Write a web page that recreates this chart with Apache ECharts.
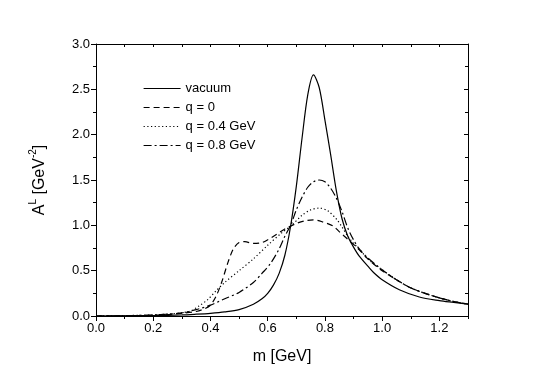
<!DOCTYPE html>
<html>
<head>
<meta charset="utf-8">
<script src="https://cdn.jsdelivr.net/npm/echarts@6/dist/echarts.min.js"></script>
<style>
  html, body { margin: 0; padding: 0; background: #fff; }
  #main { width: 545px; height: 380px; }
</style>
</head>
<body>
<div id="main"></div>
<script>
// values: [m in GeV, A^L in GeV^-2]
var vacuum = [
  [0.0, 0], [0.1, 0.002], [0.2, 0.005], [0.3, 0.012], [0.35, 0.02], [0.4, 0.03],
  [0.45, 0.045], [0.5, 0.07], [0.55, 0.13], [0.58, 0.19], [0.6, 0.25], [0.62, 0.34],
  [0.64, 0.47], [0.66, 0.67], [0.68, 0.99], [0.70, 1.43], [0.72, 1.96], [0.74, 2.44],
  [0.76, 2.66], [0.78, 2.52], [0.80, 2.16], [0.82, 1.78], [0.84, 1.38], [0.86, 1.07],
  [0.88, 0.88], [0.90, 0.76], [0.92, 0.66], [0.95, 0.55], [0.97, 0.48], [1.0, 0.40],
  [1.06, 0.29], [1.13, 0.21], [1.2, 0.17], [1.25, 0.15], [1.3, 0.13]
];
var q0 = [
  [0.0, 0], [0.1, 0.003], [0.2, 0.008], [0.25, 0.015], [0.3, 0.03], [0.35, 0.05],
  [0.38, 0.08], [0.40, 0.12], [0.42, 0.22], [0.44, 0.38], [0.46, 0.58], [0.48, 0.74],
  [0.50, 0.81], [0.52, 0.82], [0.55, 0.80], [0.58, 0.81], [0.60, 0.84], [0.63, 0.90],
  [0.66, 0.96], [0.70, 1.02], [0.73, 1.05], [0.76, 1.06], [0.79, 1.04], [0.83, 0.99],
  [0.85, 0.93], [0.875, 0.86], [0.90, 0.79], [0.92, 0.73], [0.95, 0.63], [1.0, 0.50],
  [1.05, 0.40], [1.1, 0.31], [1.15, 0.25], [1.2, 0.20], [1.25, 0.16], [1.3, 0.13]
];
var q04 = [
  [0.0, 0], [0.1, 0.004], [0.2, 0.012], [0.25, 0.022], [0.3, 0.035], [0.33, 0.055],
  [0.36, 0.11], [0.39, 0.18], [0.42, 0.28], [0.45, 0.37], [0.50, 0.50], [0.55, 0.63],
  [0.60, 0.78], [0.65, 0.92], [0.68, 0.99], [0.72, 1.11], [0.75, 1.17], [0.78, 1.19],
  [0.81, 1.16], [0.84, 1.07], [0.86, 0.98], [0.88, 0.88], [0.90, 0.80], [0.92, 0.74],
  [0.95, 0.63], [1.0, 0.51], [1.05, 0.40], [1.1, 0.31], [1.15, 0.25], [1.2, 0.20],
  [1.25, 0.16], [1.3, 0.13]
];
var q08 = [
  [0.0, 0], [0.1, 0.003], [0.2, 0.01], [0.25, 0.02], [0.3, 0.035], [0.35, 0.07],
  [0.4, 0.12], [0.45, 0.19], [0.5, 0.26], [0.55, 0.37], [0.58, 0.47], [0.61, 0.58],
  [0.64, 0.74], [0.66, 0.88], [0.68, 1.0], [0.70, 1.17], [0.72, 1.31], [0.74, 1.42],
  [0.76, 1.48], [0.78, 1.50], [0.80, 1.48], [0.82, 1.41], [0.84, 1.30], [0.86, 1.15],
  [0.88, 0.97], [0.90, 0.84], [0.92, 0.74], [0.95, 0.64], [1.0, 0.51], [1.05, 0.40],
  [1.1, 0.31], [1.15, 0.25], [1.2, 0.20], [1.25, 0.16], [1.3, 0.13]
];
var names = ['vacuum', 'q = 0', 'q = 0.4 GeV', 'q = 0.8 GeV'];

var font = '"Liberation Sans", Arial, sans-serif';
var myChart = echarts.init(document.getElementById('main'));

function mkSeries(name, data, type){
  return {
    name: name,
    type: 'line',
    data: data,
    smooth: 0.3,
    symbol: 'none',
    xAxisIndex: 0,
    yAxisIndex: 0,
    lineStyle: { color: '#000', width: 1.2, type: type },
    itemStyle: { color: 'rgba(0,0,0,0)', borderWidth: 0 }
  };
}

var option = {
  animation: false,
  backgroundColor: '#fff',
  textStyle: { fontFamily: font },
  grid: { left: 96, right: 77, top: 44, bottom: 64 },
  legend: {
    data: names,
    orient: 'vertical',
    left: 138,
    top: 77,
    itemWidth: 37,
    itemHeight: 14,
    itemGap: 6,
    itemStyle: { color: 'rgba(0,0,0,0)', borderWidth: 0 },
    lineStyle: { width: 1.2 },
    textStyle: { fontSize: 13, color: '#000', fontFamily: font }
  },
  xAxis: [
    { // bottom, major ticks and labels
      type: 'value', position: 'bottom', min: 0, max: 1.3, interval: 0.2,
      name: 'm [GeV]', nameLocation: 'middle', nameGap: 33,
      nameTextStyle: { fontSize: 16, color: '#000', fontFamily: font },
      axisLine: { onZero: false, lineStyle: { color: '#000', width: 1 } },
      axisTick: { inside: false, length: 5, lineStyle: { color: '#000' } },
      axisLabel: { fontSize: 13, color: '#000', margin: 6, showMaxLabel: false,
        formatter: function(v){ return v.toFixed(1); } },
      splitLine: { show: false }
    },
    { // bottom, minor ticks
      type: 'value', position: 'bottom', min: 0, max: 1.3, interval: 0.1,
      axisLine: { show: false, onZero: false },
      axisTick: { inside: false, length: 3, lineStyle: { color: '#000' } },
      axisLabel: { show: false },
      splitLine: { show: false }
    },
    { // top frame
      type: 'value', position: 'top', min: 0, max: 1.3, interval: 0.1,
      axisLine: { onZero: false, lineStyle: { color: '#000', width: 1 } },
      axisTick: { inside: true, length: 3, lineStyle: { color: '#000' } },
      axisLabel: { show: false },
      splitLine: { show: false }
    }
  ],
  yAxis: [
    {
      type: 'value', position: 'left', min: 0, max: 3, interval: 0.5,
      name: '{a|A}{s|L}{a| [GeV}{s|-2}{a|]}',
      nameLocation: 'middle', nameGap: 48, nameRotate: 90,
      nameTextStyle: {
        color: '#000', fontFamily: font,
        rich: {
          a: { fontSize: 16, color: '#000', fontFamily: font, lineHeight: 20, verticalAlign: 'bottom' },
          s: { fontSize: 10, color: '#000', fontFamily: font, lineHeight: 20, verticalAlign: 'top' }
        }
      },
      axisLine: { onZero: false, lineStyle: { color: '#000', width: 1 } },
      axisTick: { inside: false, length: 5, lineStyle: { color: '#000' } },
      minorTick: { show: true, splitNumber: 2, length: 3, lineStyle: { color: '#000' } },
      axisLabel: { fontSize: 13, color: '#000', margin: 6,
        formatter: function(v){ return v.toFixed(1); } },
      splitLine: { show: false }
    },
    {
      type: 'value', position: 'right', min: 0, max: 3, interval: 0.5,
      axisLine: { onZero: false, lineStyle: { color: '#000', width: 1 } },
      axisTick: { inside: true, length: 4, lineStyle: { color: '#000' } },
      minorTick: { show: true, splitNumber: 2, length: 3, lineStyle: { color: '#000' } },
      axisLabel: { show: false },
      splitLine: { show: false }
    }
  ],
  series: [
    mkSeries(names[0], vacuum, 'solid'),
    mkSeries(names[1], q0, [6, 4]),
    mkSeries(names[2], q04, [1.2, 2.5]),
    mkSeries(names[3], q08, [8, 3, 2, 3])
  ]
};

myChart.setOption(option);
</script>
</body>
</html>
